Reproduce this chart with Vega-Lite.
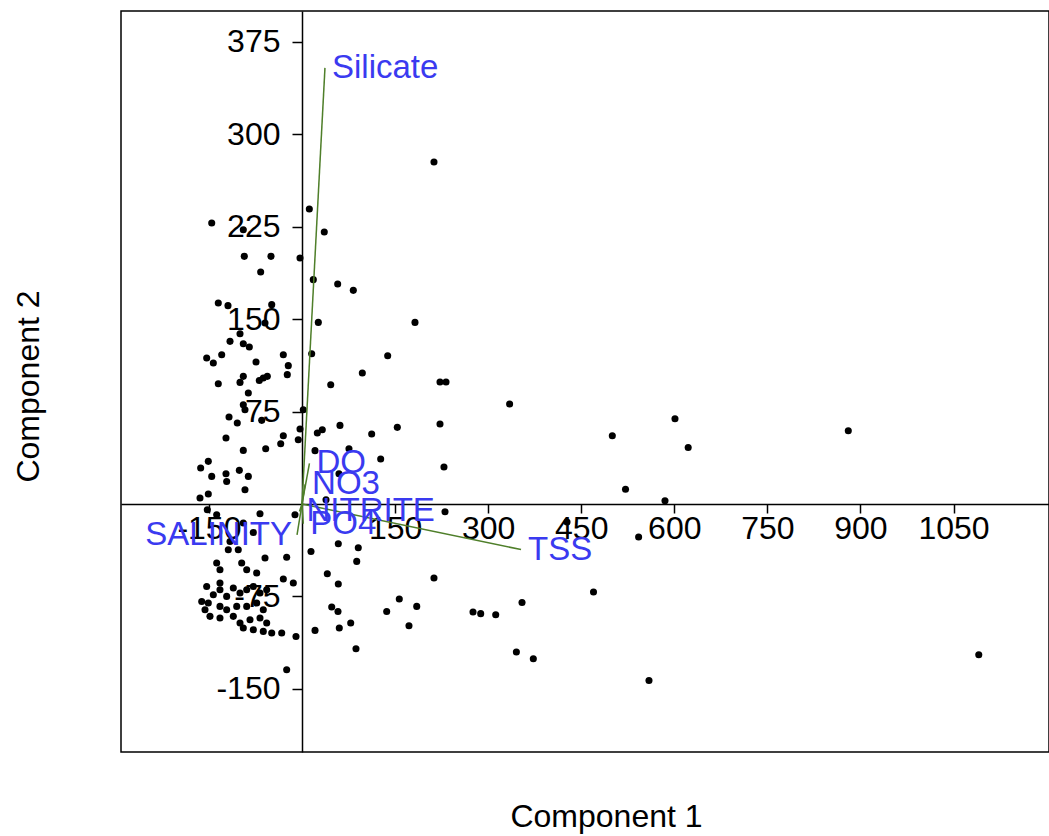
{
  "$schema": "https://vega.github.io/schema/vega-lite/v6.json",
  "autosize": "none",
  "width": 928,
  "height": 741,
  "padding": {"left": 121, "top": 11, "right": 0, "bottom": 84},
  "background": "white",
  "config": {
    "view": {"stroke": "black", "strokeWidth": 1.5},
    "font": "Liberation Sans"
  },
  "datasets": {
    "scores": [
      {"pc1": -145.5, "pc2": 228.1}, {"pc1": -94.6, "pc2": 222.6}, {"pc1": -93.0, "pc2": 201.0}, {"pc1": -50.0, "pc2": 201.0},
      {"pc1": -3.2, "pc2": 199.7}, {"pc1": -66.6, "pc2": 188.3}, {"pc1": -134.9, "pc2": 163.1}, {"pc1": -119.3, "pc2": 161.0},
      {"pc1": -48.8, "pc2": 161.8}, {"pc1": -59.6, "pc2": 146.9}, {"pc1": -99.9, "pc2": 138.2}, {"pc1": -116.0, "pc2": 132.0},
      {"pc1": -94.6, "pc2": 130.1}, {"pc1": -84.9, "pc2": 127.4}, {"pc1": -153.6, "pc2": 118.5}, {"pc1": -129.4, "pc2": 121.2},
      {"pc1": -142.9, "pc2": 114.4}, {"pc1": -30.1, "pc2": 121.2}, {"pc1": -74.1, "pc2": 115.3}, {"pc1": -22.1, "pc2": 112.3},
      {"pc1": -23.7, "pc2": 105.0}, {"pc1": -94.6, "pc2": 103.6}, {"pc1": -99.9, "pc2": 98.7}, {"pc1": -134.9, "pc2": 97.6},
      {"pc1": -68.8, "pc2": 100.3}, {"pc1": -62.4, "pc2": 102.3}, {"pc1": -55.9, "pc2": 103.6}, {"pc1": -86.5, "pc2": 90.1},
      {"pc1": -94.6, "pc2": 80.6}, {"pc1": -91.9, "pc2": 76.5}, {"pc1": -117.6, "pc2": 70.6}, {"pc1": -104.3, "pc2": 65.7},
      {"pc1": -64.9, "pc2": 67.9}, {"pc1": -3.2, "pc2": 60.9}, {"pc1": -6.0, "pc2": 52.2}, {"pc1": -30.1, "pc2": 55.4},
      {"pc1": -34.3, "pc2": 48.9}, {"pc1": -122.5, "pc2": 53.6}, {"pc1": -94.6, "pc2": 43.5}, {"pc1": -58.5, "pc2": 44.9},
      {"pc1": -151.0, "pc2": 34.6}, {"pc1": -163.3, "pc2": 29.2}, {"pc1": -145.5, "pc2": 22.4}, {"pc1": -122.5, "pc2": 24.6},
      {"pc1": -121.4, "pc2": 18.3}, {"pc1": -101.0, "pc2": 27.3}, {"pc1": -86.5, "pc2": 22.4}, {"pc1": -91.9, "pc2": 11.6},
      {"pc1": -151.0, "pc2": 8.1}, {"pc1": -164.4, "pc2": 4.9}, {"pc1": -152.6, "pc2": -4.6}, {"pc1": -137.5, "pc2": -8.7},
      {"pc1": -67.7, "pc2": -7.9}, {"pc1": -11.3, "pc2": -8.7}, {"pc1": -94.6, "pc2": -15.4}, {"pc1": -78.5, "pc2": -23.1},
      {"pc1": -116.0, "pc2": -30.4}, {"pc1": -118.8, "pc2": -37.1}, {"pc1": -102.7, "pc2": -37.1}, {"pc1": -59.6, "pc2": -43.8},
      {"pc1": -24.7, "pc2": -43.2}, {"pc1": -137.5, "pc2": -47.9}, {"pc1": -132.2, "pc2": -53.3}, {"pc1": -97.2, "pc2": -47.9},
      {"pc1": -89.1, "pc2": -53.3}, {"pc1": -73.0, "pc2": -56.0}, {"pc1": -30.1, "pc2": -60.9}, {"pc1": -14.0, "pc2": -64.1},
      {"pc1": -153.6, "pc2": -66.9}, {"pc1": -132.2, "pc2": -64.1},
      {"pc1": -161.6, "pc2": -79.1}, {"pc1": -151.0, "pc2": -80.4}, {"pc1": -142.9, "pc2": -73.6}, {"pc1": -132.2, "pc2": -69.6},
      {"pc1": -121.4, "pc2": -75.0}, {"pc1": -110.7, "pc2": -68.2}, {"pc1": -99.9, "pc2": -72.2}, {"pc1": -89.1, "pc2": -69.6},
      {"pc1": -78.5, "pc2": -66.9}, {"pc1": -67.7, "pc2": -72.2}, {"pc1": -56.9, "pc2": -69.6}, {"pc1": -132.2, "pc2": -83.1},
      {"pc1": -121.4, "pc2": -85.8}, {"pc1": -105.2, "pc2": -83.1}, {"pc1": -89.1, "pc2": -83.1}, {"pc1": -73.0, "pc2": -80.4},
      {"pc1": -62.4, "pc2": -85.8}, {"pc1": -148.3, "pc2": -91.2}, {"pc1": -132.2, "pc2": -92.5}, {"pc1": -110.7, "pc2": -91.2},
      {"pc1": -99.9, "pc2": -96.6}, {"pc1": -83.8, "pc2": -93.9}, {"pc1": -67.7, "pc2": -92.5}, {"pc1": -56.9, "pc2": -96.6},
      {"pc1": -94.6, "pc2": -100.6}, {"pc1": -78.5, "pc2": -102.0}, {"pc1": -62.4, "pc2": -103.4}, {"pc1": -48.8, "pc2": -104.7},
      {"pc1": -32.7, "pc2": -104.7}, {"pc1": -156.3, "pc2": -85.8},
      {"pc1": -9.7, "pc2": -107.5}, {"pc1": -24.7, "pc2": -134.5},
      {"pc1": 11.8, "pc2": 239.4}, {"pc1": 35.9, "pc2": 220.8}, {"pc1": 18.2, "pc2": 182.1}, {"pc1": 57.5, "pc2": 178.6},
      {"pc1": 82.7, "pc2": 173.4}, {"pc1": 26.3, "pc2": 147.4}, {"pc1": 182.1, "pc2": 147.4}, {"pc1": 212.7, "pc2": 277.6},
      {"pc1": 15.6, "pc2": 122.0}, {"pc1": 138.1, "pc2": 120.4}, {"pc1": 97.2, "pc2": 106.3}, {"pc1": 46.3, "pc2": 96.8},
      {"pc1": 222.4, "pc2": 99.0}, {"pc1": 232.1, "pc2": 99.0}, {"pc1": 2.1, "pc2": 76.5}, {"pc1": 24.7, "pc2": 57.6},
      {"pc1": 32.7, "pc2": 60.3}, {"pc1": 61.2, "pc2": 63.8}, {"pc1": 112.3, "pc2": 56.8}, {"pc1": 153.6, "pc2": 62.2},
      {"pc1": 222.4, "pc2": 64.9}, {"pc1": 21.0, "pc2": 43.3}, {"pc1": 75.7, "pc2": 44.9}, {"pc1": 126.8, "pc2": 36.5},
      {"pc1": 228.8, "pc2": 30.0}, {"pc1": 59.6, "pc2": 24.6}, {"pc1": 38.7, "pc2": 3.5}, {"pc1": 230.5, "pc2": -6.3},
      {"pc1": 58.5, "pc2": -32.2}, {"pc1": 90.7, "pc2": -35.5}, {"pc1": 14.5, "pc2": -38.5}, {"pc1": 88.2, "pc2": -46.6},
      {"pc1": 40.8, "pc2": -56.6}, {"pc1": 58.5, "pc2": -64.9}, {"pc1": 212.7, "pc2": -60.1}, {"pc1": 156.8, "pc2": -77.1},
      {"pc1": 184.9, "pc2": -83.1}, {"pc1": 136.5, "pc2": -87.2}, {"pc1": 47.9, "pc2": -83.6}, {"pc1": 58.0, "pc2": -87.2},
      {"pc1": 78.5, "pc2": -96.6}, {"pc1": 60.1, "pc2": -100.6}, {"pc1": 172.4, "pc2": -98.8}, {"pc1": 21.0, "pc2": -102.6},
      {"pc1": 87.0, "pc2": -117.5},
      {"pc1": 334.6, "pc2": 81.2}, {"pc1": 601.1, "pc2": 69.2}, {"pc1": 500.1, "pc2": 55.4}, {"pc1": 622.4, "pc2": 45.9},
      {"pc1": 880.4, "pc2": 59.5}, {"pc1": 521.4, "pc2": 12.0}, {"pc1": 585.0, "pc2": 2.7}, {"pc1": 427.1, "pc2": -14.6},
      {"pc1": 542.5, "pc2": -26.8}, {"pc1": 469.8, "pc2": -71.4}, {"pc1": 354.6, "pc2": -79.9}, {"pc1": 275.6, "pc2": -87.7},
      {"pc1": 288.0, "pc2": -89.0}, {"pc1": 312.2, "pc2": -89.9}, {"pc1": 345.5, "pc2": -120.1}, {"pc1": 372.8, "pc2": -125.6},
      {"pc1": 559.2, "pc2": -143.2}, {"pc1": 1090.7, "pc2": -122.3}
    ],
    "vectors": [
      {"var": "Silicate", "pc1": 37, "pc2": 354},
      {"var": "TSS", "pc1": 353, "pc2": -37},
      {"var": "SALINITY", "pc1": -8, "pc2": -25},
      {"var": "DO", "pc1": 12, "pc2": 33},
      {"var": "NO3", "pc1": 5, "pc2": 16},
      {"var": "NITRITE", "pc1": -4, "pc2": -6},
      {"var": "PO4", "pc1": 2, "pc2": -16}
    ]
  },
  "layer": [
    {
      "data": {"name": "scores"},
      "mark": {"type": "circle", "color": "black", "size": 50, "opacity": 1},
      "encoding": {
        "x": {
          "field": "pc1", "type": "quantitative",
          "scale": {"domain": [-291.7, 1203.87], "nice": false, "zero": false},
          "axis": {
            "title": "Component 1", "offset": -248,
            "values": [-150, 150, 300, 450, 600, 750, 900, 1050],
            "labelExpr": "'' + datum.value",
            "grid": false, "tickSize": 9, "tickWidth": 1.5, "tickColor": "black",
            "domainColor": "black", "domainWidth": 1.5,
            "labelFont": "Liberation Sans", "labelFontSize": 32, "labelColor": "black", "labelPadding": 0,
            "labelFlush": false, "labelOverlap": false,
            "titleFont": "Liberation Sans", "titleFontSize": 32, "titleFontWeight": "normal", "titleColor": "black",
            "titleX": 485, "titleY": 322, "titleBaseline": "alphabetic", "titleAlign": "center"
          }
        },
        "y": {
          "field": "pc2", "type": "quantitative",
          "scale": {"domain": [-201.3, 400.16], "nice": false, "zero": false},
          "axis": {
            "title": "Component 2", "offset": -181,
            "values": [-150, -75, 75, 150, 225, 300, 375],
            "labelExpr": "'' + datum.value",
            "grid": false, "tickSize": 10, "tickWidth": 1.5, "tickColor": "black",
            "domainColor": "black", "domainWidth": 1.5,
            "labelFont": "Liberation Sans", "labelFontSize": 32, "labelColor": "black", "labelPadding": 12,
            "labelFlush": false, "labelOverlap": false,
            "titleFont": "Liberation Sans", "titleFontSize": 32, "titleFontWeight": "normal", "titleColor": "black",
            "titleX": -264, "titleY": 375, "titleAngle": -90, "titleBaseline": "alphabetic", "titleAlign": "center"
          }
        }
      }
    },
    {
      "data": {"name": "vectors"},
      "mark": {"type": "rule", "color": "#4f7f2a", "strokeWidth": 1.5},
      "encoding": {
        "x": {"field": "pc1", "type": "quantitative"},
        "y": {"field": "pc2", "type": "quantitative"},
        "x2": {"datum": 0},
        "y2": {"datum": 0}
      }
    },
    {
      "data": {"name": "vectors"},
      "transform": [{"filter": "datum.pc1 >= -5"}],
      "mark": {"type": "text", "align": "left", "baseline": "middle", "dx": 7, "fontSize": 33, "font": "Liberation Sans", "color": "#3a3af0"},
      "encoding": {
        "x": {"field": "pc1", "type": "quantitative"},
        "y": {"field": "pc2", "type": "quantitative"},
        "text": {"field": "var", "type": "nominal"}
      }
    },
    {
      "data": {"name": "vectors"},
      "transform": [{"filter": "datum.pc1 < -5"}],
      "mark": {"type": "text", "align": "right", "baseline": "middle", "dx": -5, "fontSize": 33, "font": "Liberation Sans", "color": "#3a3af0"},
      "encoding": {
        "x": {"field": "pc1", "type": "quantitative"},
        "y": {"field": "pc2", "type": "quantitative"},
        "text": {"field": "var", "type": "nominal"}
      }
    }
  ]
}
